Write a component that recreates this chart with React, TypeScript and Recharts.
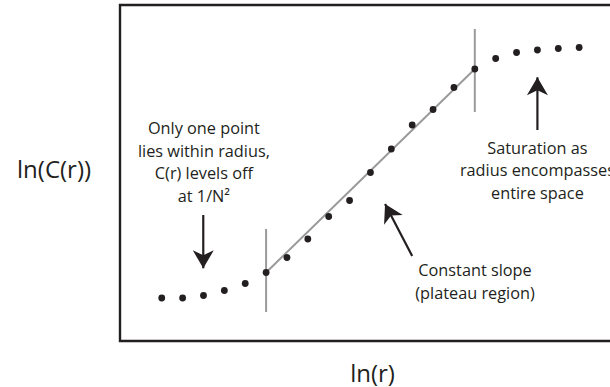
import React from "react";
import {
  ScatterChart,
  Scatter,
  XAxis,
  YAxis,
  ReferenceLine,
  ReferenceArea,
  ReferenceDot,
} from "recharts";

// ln(r) positions (arbitrary units) and ln(C(r)) values (arbitrary units)
const lnR = [1, 2, 3, 4, 5, 6, 7, 8, 9, 10, 11, 12, 13, 14, 15, 16, 17, 18, 19, 20, 21];
const lnC = [4.3, 4.3, 4.55, 5.05, 5.75, 6.85, 8.35, 10.2, 12.45, 14.05, 16.85, 19.2, 21.6, 23.15, 25.35, 27.2, 28.25, 28.85, 29.1, 29.25, 29.35];

const xDomain = [-1, 26.79];
const yDomain = [0, 33.6];

// fitted plateau line endpoints and region markers
const slopeStart = { x: 6, y: 6.85 };
const slopeEnd = { x: 16, y: 27.2 };
const lowerMarker = { x: 6, y1: 2.9, y2: 11.2 };
const upperMarker = { x: 16, y1: 22.9, y2: 31.2 };

const leftNote = ["Only one point", "lies within radius,", "C(r) levels off", "at 1/N\u00B2"];
const rightNote = ["Saturation as", "radius encompasses", "entire space"];
const midNote = ["Constant slope", "(plateau region)"];

const arrows = [
  { from: { x: 2.99, y: 12.6 }, to: { x: 2.99, y: 7.27 } },
  { from: { x: 19.0, y: 21.1 }, to: { x: 19.0, y: 26.37 } },
  { from: { x: 13.0, y: 8.5 }, to: { x: 11.7, y: 13.7 } },
];

const data = lnR.map((x, i) => ({ x, y: lnC[i] }));

const INK = "#231f20";
const GRAY = "#9a9a9a";
const FONT = "'Open Sans', sans-serif";

const textShape = (lines: string[], size: number, spacing: number) => (p: any) => {
  const n = lines.length;
  const startY = p.cy - ((n - 1) * spacing) / 2;
  return (
    <text
      x={p.cx}
      y={startY}
      textAnchor="middle"
      dominantBaseline="central"
      fontFamily={FONT}
      fontSize={size}
      fill={INK}
    >
      {lines.map((l, i) => (
        <tspan key={i} x={p.cx} y={startY + i * spacing}>
          {l}
        </tspan>
      ))}
    </text>
  );
};

const headShape = (angleDeg: number) => (p: any) => {
  const len = 18;
  const half = 10.5;
  const notch = 5;
  const pts = [
    [0, 0],
    [-len, -half],
    [-len + notch, 0],
    [-len, half],
  ];
  const a = (angleDeg * Math.PI) / 180;
  const c = Math.cos(a);
  const s = Math.sin(a);
  const str = pts
    .map(([px, py]) => `${p.cx + px * c - py * s},${p.cy + px * s + py * c}`)
    .join(" ");
  return <polygon points={str} fill={INK} />;
};

export default function App() {
  const pxPerX = 580 / (xDomain[1] - xDomain[0]);
  const pxPerY = 336 / (yDomain[1] - yDomain[0]);
  return (
    <div
      style={{
        position: "absolute",
        left: 0,
        top: 0,
        width: 610,
        height: 387,
        overflow: "hidden",
        background: "#fff",
      }}
    >
      <ScatterChart
        width={700}
        height={387}
        margin={{ top: 5, left: 120, right: 0, bottom: 46 }}
      >
        <XAxis type="number" dataKey="x" domain={xDomain} hide allowDataOverflow />
        <YAxis type="number" dataKey="y" domain={yDomain} hide allowDataOverflow />
        <ReferenceArea
          x1={xDomain[0]}
          x2={xDomain[1]}
          y1={yDomain[0]}
          y2={yDomain[1]}
          fill="none"
          fillOpacity={0}
          stroke={INK}
          strokeWidth={2.4}
          ifOverflow="visible"
        />
        <ReferenceLine
          segment={[slopeStart, slopeEnd]}
          stroke={GRAY}
          strokeWidth={2}
          ifOverflow="visible"
        />
        <ReferenceLine
          segment={[
            { x: lowerMarker.x, y: lowerMarker.y1 },
            { x: lowerMarker.x, y: lowerMarker.y2 },
          ]}
          stroke={GRAY}
          strokeWidth={2}
          ifOverflow="visible"
        />
        <ReferenceLine
          segment={[
            { x: upperMarker.x, y: upperMarker.y1 },
            { x: upperMarker.x, y: upperMarker.y2 },
          ]}
          stroke={GRAY}
          strokeWidth={2}
          ifOverflow="visible"
        />
        {arrows.map((a, i) => {
          const dx = (a.to.x - a.from.x) * pxPerX;
          const dy = -(a.to.y - a.from.y) * pxPerY;
          const ang = (Math.atan2(dy, dx) * 180) / Math.PI;
          return (
            <React.Fragment key={i}>
              <ReferenceLine
                segment={[a.from, a.to]}
                stroke={INK}
                strokeWidth={2.2}
                ifOverflow="visible"
              />
              <ReferenceDot
                x={a.to.x}
                y={a.to.y}
                ifOverflow="visible"
                shape={headShape(ang)}
              />
            </React.Fragment>
          );
        })}
        <Scatter
          data={data}
          isAnimationActive={false}
          shape={(p: any) => <circle cx={p.cx} cy={p.cy} r={3.4} fill={INK} />}
        />
        <ReferenceDot x={3.02} y={17.9} ifOverflow="visible" shape={textShape(leftNote, 16.3, 22.8)} />
        <ReferenceDot x={19.0} y={17.1} ifOverflow="visible" shape={textShape(rightNote, 16.3, 22.5)} />
        <ReferenceDot x={16.01} y={5.97} ifOverflow="visible" shape={textShape(midNote, 16.3, 22.5)} />
        <ReferenceDot x={-4.16} y={17.3} ifOverflow="visible" shape={textShape(["ln(C(r))"], 24, 0)} />
        <ReferenceDot x={11.1} y={-3.1} ifOverflow="visible" shape={textShape(["ln(r)"], 24, 0)} />
      </ScatterChart>
    </div>
  );
}
